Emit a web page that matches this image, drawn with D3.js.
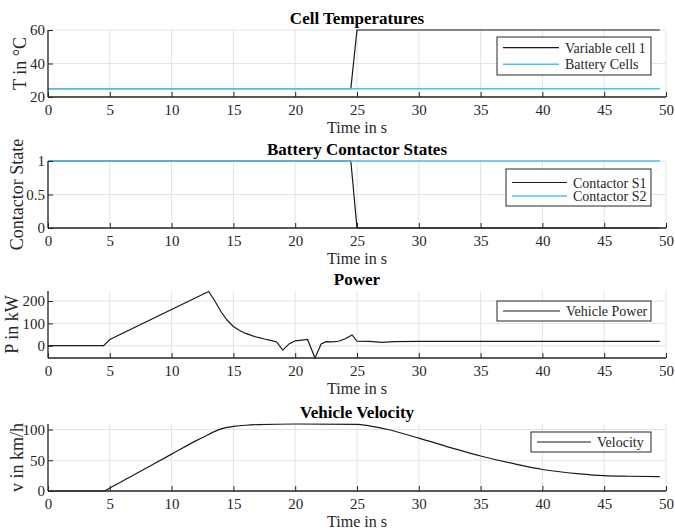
<!DOCTYPE html>
<html>
<head>
<meta charset="utf-8">
<script src="https://cdn.jsdelivr.net/npm/d3@7"></script>
<style>
  body { margin: 0; background: #fff; }
  svg, svg text { font-family: "Liberation Serif", "Times New Roman", serif; }
</style>
</head>
<body>
<svg id="chart" width="675" height="531"></svg>
<script>
// ---- data ----
const timeTicks = [0, 5, 10, 15, 20, 25, 30, 35, 40, 45, 50]

const tempTime = [0, 24.5, 25, 49.5]
const tempVar = [25, 25, 60, 60]
const tempCells = [25, 25, 25, 25]

const contTime = [0, 24.5, 25, 49.5]
const contS1 = [1, 1, 0, 0]
const contS2 = [1, 1, 1, 1]

const powerTime = [0, 4.5, 5, 13, 13.5, 14, 14.5, 15, 15.5, 16, 16.5, 17, 17.5, 18, 18.5, 19, 19.5, 20, 21, 21.6, 22.1, 22.5, 23, 23.5, 24, 24.6, 25, 26, 27, 28, 30, 35, 40, 45, 49.5]
const power = [0, 0, 28, 243, 200, 152, 114, 86, 68, 55, 45, 37, 30, 24, 17, -20, 8, 22, 28, -55, 8, 18, 17, 20, 30, 48, 20, 19, 15, 18, 19, 19, 19, 19, 19]

const velTime = [0, 4.5, 5, 7, 10, 12, 13, 13.5, 14, 14.5, 15, 16, 17, 20, 25, 26, 27.5, 30, 33, 35, 38, 40, 43, 45, 47, 49.5]
const velocity = [0, 0, 5, 27, 60, 82, 92, 97, 101, 103.5, 105, 107, 108, 109, 108.5, 106, 100, 86, 68, 57, 43, 35, 28, 25, 24, 23.5]

const tempTicks = [20, 40, 60]
const contTicks = [0, 0.5, 1]
const powerTicks = [0, 100, 200]
const velTicks = [0, 50, 100]

const black = '#1a1a1a'
const blue = '#4DBEEE'
const axisCol = '#262626'

const panels = [
  { title: 'Cell Temperatures', ylabel: 'T in °C', ylx: 20, top: 30, domain: [20, 60], ticks: tempTicks,
    series: [{ name: 'Variable cell 1', t: tempTime, v: tempVar, c: black }, { name: 'Battery Cells', t: tempTime, v: tempCells, c: blue }],
    legend: { x: 497, y: 37, w: 154, h: 38, l1: 503, l2: 559, tx: 565, rows: [47.7, 64.3] } },
  { title: 'Battery Contactor States', ylabel: 'Contactor State', ylx: 17, top: 161, domain: [0, 1], ticks: contTicks,
    series: [{ name: 'Contactor S1', t: contTime, v: contS1, c: black }, { name: 'Contactor S2', t: contTime, v: contS2, c: blue }],
    legend: { x: 506, y: 169, w: 145, h: 37, l1: 512, l2: 567, tx: 573, rows: [182.5, 196] } },
  { title: 'Power', ylabel: 'P in kW', ylx: 12, top: 291, domain: [-55, 245], ticks: powerTicks,
    series: [{ name: 'Vehicle Power', t: powerTime, v: power, c: black }],
    legend: { x: 497, y: 301, w: 154, h: 20, l1: 503, l2: 560, tx: 566, rows: [311] } },
  { title: 'Vehicle Velocity', ylabel: 'v in km/h', ylx: 17, top: 424, domain: [0, 109], ticks: velTicks, smooth: true,
    series: [{ name: 'Velocity', t: velTime, v: velocity, c: black }],
    legend: { x: 531, y: 432, w: 120, h: 20, l1: 537, l2: 591, tx: 597, rows: [442] } }
]

const left = 48, right = 666, ph = 67

const svg = d3.select('#chart')
const x = d3.scaleLinear().domain([0, 50]).range([left, right])

panels.forEach(p => {
  const y = d3.scaleLinear().domain(p.domain).range([p.top + ph, p.top])
  const g = svg.append('g')

  // grid
  g.selectAll('.vg').data(timeTicks).enter().append('line')
    .attr('x1', d => x(d)).attr('x2', d => x(d))
    .attr('y1', p.top).attr('y2', p.top + ph)
    .attr('stroke', '#e3e3e3').attr('stroke-width', 1)
  g.selectAll('.hg').data(p.ticks).enter().append('line')
    .attr('x1', left).attr('x2', right)
    .attr('y1', d => y(d)).attr('y2', d => y(d))
    .attr('stroke', '#e3e3e3').attr('stroke-width', 1)

  // lines
  p.series.forEach(s => {
    const line = d3.line()
      .x((d, i) => x(s.t[i]))
      .y(d => y(d))
    if (p.smooth) line.curve(d3.curveMonotoneX)
    g.append('path').datum(s.v)
      .attr('d', line)
      .attr('fill', 'none')
      .attr('stroke', s.c)
      .attr('stroke-width', s.c === blue ? 1.5 : 1.2)
  })

  // axes
  const xAxis = d3.axisBottom(x).tickValues(timeTicks).tickSize(-5).tickPadding(7)
  const gx = g.append('g').attr('transform', `translate(0,${p.top + ph})`).call(xAxis)
  const yAxis = d3.axisLeft(y).tickValues(p.ticks).tickSize(-5).tickPadding(4).tickFormat(d3.format('~g'))
  const gy = g.append('g').attr('transform', `translate(${left},0)`).call(yAxis)
  ;[gx, gy].forEach(a => {
    a.attr('font-family', '"Liberation Serif", serif').attr('font-size', 15)
    a.select('.domain').attr('stroke', axisCol).attr('stroke-width', 1.3)
    a.selectAll('.tick line').attr('stroke', axisCol)
    a.selectAll('.tick text').attr('fill', axisCol)
  })
  gx.select('.domain').attr('d', `M${left},0H${right}`)
  gy.select('.domain').attr('d', `M0,${p.top + ph}V${p.top}`)
  gy.selectAll('.tick text').attr('x', -3)

  // labels
  g.append('text').attr('x', 357).attr('y', p.top - 6)
    .attr('text-anchor', 'middle').attr('font-weight', 'bold').attr('font-size', 17)
    .attr('fill', '#000').text(p.title)
  g.append('text').attr('x', 357).attr('y', p.top + ph + 36)
    .attr('text-anchor', 'middle').attr('font-size', 16).attr('fill', axisCol).text('Time in s')
  g.append('text')
    .attr('transform', `translate(${p.ylx + 6},${p.top + ph / 2}) rotate(-90)`)
    .attr('text-anchor', 'middle').attr('font-size', 18).attr('fill', axisCol).text(p.ylabel)

  // legend
  const L = p.legend
  g.append('rect').attr('x', L.x).attr('y', L.y).attr('width', L.w).attr('height', L.h)
    .attr('fill', '#fff').attr('stroke', axisCol).attr('stroke-width', 1)
  p.series.forEach((s, i) => {
    g.append('line').attr('x1', L.l1).attr('x2', L.l2)
      .attr('y1', L.rows[i]).attr('y2', L.rows[i])
      .attr('stroke', s.c).attr('stroke-width', s.c === blue ? 1.5 : 1.2)
    g.append('text').attr('x', L.tx).attr('y', L.rows[i] + 5)
      .attr('font-size', 14).attr('fill', axisCol).text(s.name)
  })
})
</script>
</body>
</html>
